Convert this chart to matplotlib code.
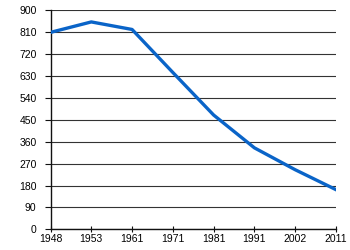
import numpy as np
import matplotlib
matplotlib.use('Agg')
import matplotlib.pyplot as plt

years = ['1948', '1953', '1961', '1971', '1981', '1991', '2002', '2011']
values = [810, 853, 822, 645, 470, 335, 245, 163]
y_ticks = [0, 90, 180, 270, 360, 450, 540, 630, 720, 810, 900]

plt.rcParams['font.family'] = ['Liberation Sans', 'DejaVu Sans']

fig = plt.figure(figsize=(3.5, 2.5), dpi=100)
ax = fig.add_axes([50.5 / 350, 20.7 / 250, 285.5 / 350, 218.8 / 250])

x = np.arange(len(years))
ax.plot(x, values, color='#0a64c8', linewidth=2.4, solid_joinstyle='round', zorder=3)

ax.set_xlim(0, len(years) - 1)
ax.set_ylim(0, 900)
ax.set_xticks(x)
ax.set_xticklabels(years)
ax.set_yticks(y_ticks)

ax.yaxis.grid(True, color='#333333', linewidth=0.8)
ax.set_axisbelow(True)
for side in ['top', 'right']:
    ax.spines[side].set_visible(False)
for side in ['left', 'bottom']:
    ax.spines[side].set_color('#111111')
    ax.spines[side].set_linewidth(1.0)

ax.tick_params(axis='y', labelsize=7.5, length=4.5, width=0.8, color='#111111', pad=5.5)
ax.tick_params(axis='x', labelsize=7.5, length=4, width=0.8, color='#111111',
               direction='inout', pad=1.5)

fig.savefig('out.png', dpi=100)
